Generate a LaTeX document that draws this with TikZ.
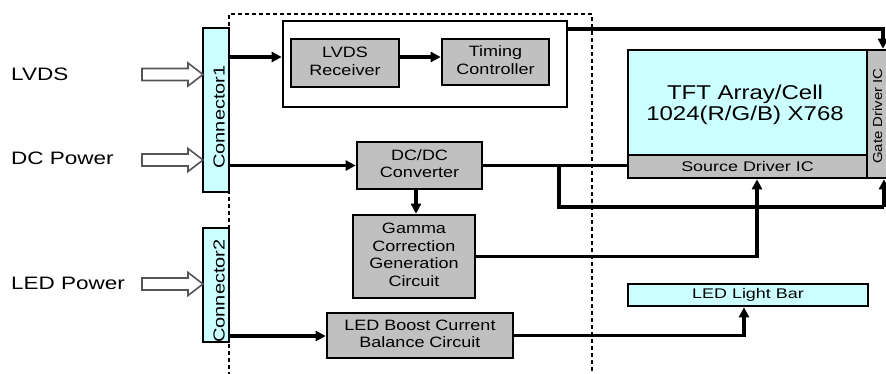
\documentclass[tikz,border=0pt]{standalone}
\usepackage{graphicx}
\usepackage{fontspec}
\setmainfont{Liberation Sans}
\usetikzlibrary{arrows.meta,calc}
\definecolor{cyanfill}{HTML}{CCFFFF}
\definecolor{grayfill}{HTML}{C0C0C0}
\definecolor{hollow}{HTML}{555555}
\newcommand{\ml}[2][1.2]{\scalebox{#1}[1]{\begin{tabular}{@{}c@{}}#2\end{tabular}}}
\tikzset{
  box/.style={draw=black, line width=2.6pt, inner sep=0pt, font=\fontsize{15}{17.5}\selectfont},
  gbox/.style={box, fill=grayfill},
  cbox/.style={box, fill=cyanfill},
  wbox/.style={box, fill=white},
  wire/.style={draw=black, line width=3.2pt},
  arr/.style={wire, -{Triangle[length=10pt,width=10pt]}},
  harrow/.style={draw=hollow, line width=1.6pt, fill=white},
  lbl/.style={anchor=west, inner sep=0pt, font=\fontsize{18}{20}\selectfont},
  vtxt/.style={rotate=90, inner sep=0pt, font=\fontsize{16}{18}\selectfont},
}
\begin{document}
\begin{tikzpicture}[x=1pt,y=-1pt]
\useasboundingbox[fill=white] (0,0) rectangle (886,373);

% dashed module boundary
\draw[line width=1.8pt, dash pattern=on 4pt off 3pt] (229,390) -- (229,14) -- (592,14) -- (592,390);

% connectors
\node[cbox, minimum width=26, minimum height=164] (conn1) at (216,110) {};
\node[cbox, minimum width=26, minimum height=114] (conn2) at (216,285) {};
\node[vtxt] (conn1t) at (219,117) {\scalebox{1.25}[1]{Connector1}};
\node[vtxt] (conn2t) at (219,291) {\scalebox{1.25}[1]{Connector2}};

% input labels
\node[lbl] (lvds) at (11,74) {\scalebox{1.25}[1]{LVDS}};
\node[lbl] (dcp) at (11,158) {\scalebox{1.25}[1]{DC Power}};
\node[lbl] (ledp) at (11,283) {\scalebox{1.25}[1]{LED Power}};

% hollow input arrows
\foreach \yy in {74.5,160,284}{
  \draw[harrow] (142,\yy-6) -- (188,\yy-6) -- (188,\yy-11.5) -- (203,\yy) -- (188,\yy+11.5) -- (188,\yy+6) -- (142,\yy+6) -- cycle;
}

% timing group
\node[wbox, minimum width=284, minimum height=86] (grp) at (425,64) {};
\node[gbox, minimum width=108, minimum height=48] (lvdsr) at (345,63) {\ml{LVDS\\Receiver}};
\node[gbox, minimum width=107, minimum height=46] (tcon) at (495.5,62) {\ml{Timing\\Controller}};

% power blocks
\node[gbox, minimum width=125, minimum height=47] (dcdc) at (419.5,165.5) {\ml{DC/DC\\Converter}};
\node[gbox, minimum width=122, minimum height=83] (gamma) at (414,256.5) {\ml{Gamma\\Correction\\Generation\\Circuit}};
\node[gbox, minimum width=186, minimum height=45] (ledb) at (420,335.5) {\ml{LED Boost Current\\Balance Circuit}};

% panel
\node[gbox, minimum width=30, minimum height=128] (gate) at (882,114) {};
\node[vtxt, font=\fontsize{13}{15}\selectfont] (gatet) at (877.5,116) {\scalebox{1.15}[1]{Gate Driver IC}};
\node[cbox, minimum width=239, minimum height=105] (tft) at (747.5,102.5) {};
\node[font=\fontsize{20}{22}\selectfont, inner sep=0pt] (tftt) at (745,106) {\ml{TFT Array/Cell\\[-1pt]1024(R/G/B) X768}};
\node[gbox, minimum width=239, minimum height=23, font=\fontsize{14}{16}\selectfont] (src) at (747.5,166.5) {\scalebox{1.28}[1]{Source Driver IC}};
\node[cbox, minimum width=240, minimum height=22, font=\fontsize{14}{16}\selectfont] (ledbar) at (748,295) {\scalebox{1.28}[1]{LED Light Bar}};

% connections
\draw[arr] (conn1.east |- 0,57) -- (grp.west |- 0,57);
\draw[arr] (lvdsr.east |- 0,57) -- (tcon.west |- 0,57);
\coordinate (tr) at (883,29);
\draw[arr] (grp.east |- tr) -- (tr) -- (tr |- gate.north);

\draw[arr] (conn1.east |- dcdc.west) -- (dcdc.west);
\draw[arr] (dcdc.south -| 416,0) -- (gamma.north -| 416,0);
\coordinate (jn) at (559,0);
\coordinate (br) at (884,207);
\draw[wire] (dcdc.east) -- (dcdc.east -| src.west);
\draw[wire] (jn |- dcdc.east) -- (jn |- br) -- (br);
\draw[arr] (br) -- (br |- gate.south);

\coordinate (gx) at (757,0);
\draw[arr] (gamma.east) -- (gamma.east -| gx) -- (gx |- src.south);

\draw[arr] (conn2.east |- 0,336) -- (ledb.west |- 0,336);
\coordinate (lx) at (744,0);
\draw[arr] (ledb.east) -- (ledb.east -| lx) -- (lx |- ledbar.south);
\end{tikzpicture}
\end{document}
